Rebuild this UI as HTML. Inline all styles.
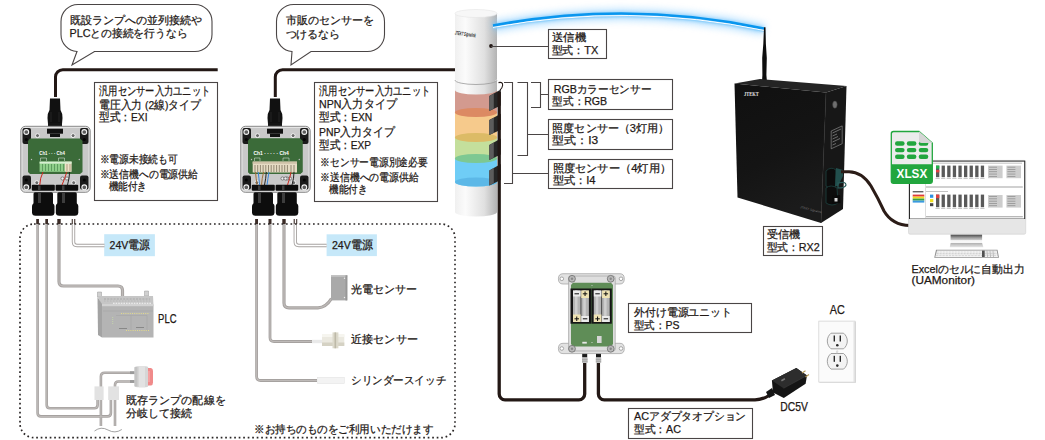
<!DOCTYPE html>
<html><head><meta charset="utf-8">
<style>
html,body{margin:0;padding:0;background:#fff;}
body{width:1045px;height:440px;overflow:hidden;position:relative;font-family:"Liberation Sans",sans-serif;}
svg{position:absolute;left:0;top:0;}
text{font-family:"Liberation Sans",sans-serif;fill:#231815;font-size:11px;}
.tx text{stroke:#231815;stroke-width:0.25px;}
</style></head><body>
<svg width="1045" height="440" viewBox="0 0 1045 440">
<defs>
  <linearGradient id="towerG" x1="0" x2="1" y1="0" y2="0">
    <stop offset="0" stop-color="#f0f0f0"/><stop offset="0.25" stop-color="#fbfbfb"/><stop offset="0.7" stop-color="#e0e0e0"/><stop offset="1" stop-color="#b3b3b3"/>
  </linearGradient>
  <linearGradient id="boxFront" x1="0" x2="1" y1="0" y2="1">
    <stop offset="0" stop-color="#1e1e1e"/><stop offset="1" stop-color="#0c0c0c"/>
  </linearGradient>
  <linearGradient id="rxFront" x1="0" y1="0" x2="0.3" y2="1"><stop offset="0" stop-color="#101010"/><stop offset="0.6" stop-color="#141414"/><stop offset="1" stop-color="#1b1b1b"/></linearGradient>
  <filter id="glow" x="-10%" y="-200%" width="120%" height="500%"><feGaussianBlur stdDeviation="3.5"/></filter>
  <filter id="glow2" x="-10%" y="-200%" width="120%" height="500%"><feGaussianBlur stdDeviation="1.5"/></filter>
</defs>

<!-- dotted region -->


<!-- speech bubbles -->
<path d="M77,51.5 L72,65 L94.5,51.5 L195,51.5 A17,17 0 0 0 212,34.5 L212,21.5 A17,17 0 0 0 195,4.5 L78,4.5 A17,17 0 0 0 61,21.5 L61,34.5 A17,17 0 0 0 77,51.5 Z" fill="#fff" stroke="#4a4545" stroke-width="1.1"/>
<path d="M292,51.5 L291,65 L311,51.5 L367.5,51.5 A17,17 0 0 0 384.5,34.5 L384.5,21.5 A17,17 0 0 0 367.5,4.5 L293.5,4.5 A17,17 0 0 0 276.5,21.5 L276.5,34.5 A17,17 0 0 0 292,51.5 Z" fill="#fff" stroke="#4a4545" stroke-width="1.1"/>

<!-- black cables top -->
<path d="M55.5,97 L55.5,77 A7.3,7.3 0 0 1 62.8,69.7 L217.7,69.7" fill="none" stroke="#231815" stroke-width="3"/>
<path d="M275.3,97 L275.3,77 A7.3,7.3 0 0 1 282.6,69.7 L456,69.7" fill="none" stroke="#231815" stroke-width="3"/>

<!-- info boxes -->
<rect x="94.5" y="82.5" width="123" height="118" fill="#fff" stroke="#4a4545" stroke-width="1.1"/>
<rect x="314.5" y="82.5" width="123" height="119" fill="#fff" stroke="#4a4545" stroke-width="1.1"/>
<rect x="548.5" y="29.5" width="58" height="29" fill="#fff" stroke="#4a4545" stroke-width="1.1"/>
<rect x="548.5" y="79.5" width="124" height="30" fill="#fff" stroke="#4a4545" stroke-width="1.1"/>
<rect x="548.5" y="119.5" width="124" height="30" fill="#fff" stroke="#4a4545" stroke-width="1.1"/>
<rect x="548.5" y="159.5" width="124" height="29" fill="#fff" stroke="#4a4545" stroke-width="1.1"/>
<rect x="763.5" y="226.5" width="59" height="29" fill="#fff" stroke="#4a4545" stroke-width="1.1"/>
<rect x="628.5" y="303.5" width="123" height="29" fill="#fff" stroke="#4a4545" stroke-width="1.1"/>
<rect x="628.5" y="408.5" width="124" height="30" fill="#fff" stroke="#4a4545" stroke-width="1.1"/>

<!-- 24V boxes -->
<rect x="104.2" y="234.2" width="50.7" height="22" fill="#c6e8f9"/>
<rect x="326.6" y="234.3" width="50.3" height="21.8" fill="#c6e8f9"/>

<!-- tower light -->
<g>
  <!-- bottom white section -->
  <path d="M455,180 L455,212 A21,4.5 0 0 0 497,212 L497,180 Z" fill="url(#towerG)"/>
  <!-- blue -->
  <path d="M455,158.5 L455,182 A21,4.5 0 0 0 497,182 L497,158.5 Z" fill="#6fcdf6"/>
  <ellipse cx="476" cy="182" rx="21" ry="4.5" fill="#5ab6e6" opacity="0.9"/>
  <path d="M455,137.5 L455,158.5 L497,158.5 L497,137.5 Z" fill="#c4df9c"/>
  <ellipse cx="476" cy="158.5" rx="21" ry="4.5" fill="#7dc892"/>
  <path d="M455,112.5 L455,137.5 L497,137.5 L497,112.5 Z" fill="#f6ca8c"/>
  <ellipse cx="476" cy="137.5" rx="21" ry="4.5" fill="#dcbb66"/>
  <path d="M455,89 L455,112.5 L497,112.5 L497,89 Z" fill="#d39a8f"/>
  <ellipse cx="476" cy="112.5" rx="21" ry="4.5" fill="#dc8a63"/>
  <!-- white band -->
  <path d="M455,81 L455,90 A21,4.5 0 0 0 497,90 L497,81 Z" fill="url(#towerG)"/>
  <!-- top cap -->
  <path d="M455,13.5 L455,79 A21,4.5 0 0 0 497,79 L497,13.5 Z" fill="url(#towerG)"/>
  <path d="M455,80 A21,4.5 0 0 0 497,80" fill="none" stroke="#9a9a9a" stroke-width="0.8"/>
  <ellipse cx="476" cy="13.5" rx="21" ry="4" fill="#f7f7f7" stroke="#e0e0e0" stroke-width="0.5"/>
  <!-- logo -->
  <text x="455" y="34.5" style="font-size:5.5px;font-weight:bold;font-style:italic;fill:#222" textLength="21" lengthAdjust="spacingAndGlyphs" transform="rotate(8 455 33)">JTEKT Signalink</text>
  <circle cx="491" cy="46" r="1.9" fill="#231815"/>
  <!-- sensor blocks -->
  <path d="M489.3,96.0 L500.8,89.6 L500.8,105.6 L489.3,111.0 Z" fill="#262626"/>
  <path d="M489.3,96.0 L493.8,93.6 L493.8,108.6 L489.3,111.0 Z" fill="#5c5c5c"/>
  <path d="M489.3,120.1 L500.8,113.7 L500.8,129.7 L489.3,135.1 Z" fill="#262626"/>
  <path d="M489.3,120.1 L493.8,117.7 L493.8,132.7 L489.3,135.1 Z" fill="#5c5c5c"/>
  <path d="M489.3,145.0 L500.8,138.6 L500.8,154.6 L489.3,160.0 Z" fill="#262626"/>
  <path d="M489.3,145.0 L493.8,142.6 L493.8,157.6 L489.3,160.0 Z" fill="#5c5c5c"/>
  <path d="M489.3,170.4 L500.8,164.0 L500.8,180.0 L489.3,185.4 Z" fill="#262626"/>
  <path d="M489.3,170.4 L493.8,168.0 L493.8,183.0 L489.3,185.4 Z" fill="#5c5c5c"/>
  <path d="M498.5,82.6 Q503,81.5 502.6,85.5 Q502.2,88.5 500,90" fill="none" stroke="#231815" stroke-width="1.1"/>
</g>

<!-- radio arc glow -->
<path d="M493,26.5 Q629,1 764,29.5" fill="none" stroke="#8ccfff" stroke-width="12" opacity="0.55" filter="url(#glow)"/>
<path d="M493,26.5 Q629,1 764,29.5" fill="none" stroke="#5bb8f5" stroke-width="6" opacity="0.45" filter="url(#glow2)"/>
<path d="M493,25.5 Q629,0 764,28.5" fill="none" stroke="#0a96ee" stroke-width="2.6"/>
<path d="M493,27.5 Q629,2.2 764,30.5" fill="none" stroke="#ffffff" stroke-width="1"/>
<path d="M493,28.5 Q629,3.2 764,31.5" fill="none" stroke="#8fd0fb" stroke-width="0.8"/>

<!-- leader lines -->
<g stroke="#4a4545" stroke-width="1.1" fill="none">
  <path d="M491,46.5 L548.5,46.5"/>
  <path d="M531,82.5 L540.5,82.5 L540.5,107.5 L531,107.5 M540.5,94.5 L548.5,94.5"/>
  <path d="M517.5,82.5 L527.5,82.5 L527.5,155.5 L517.5,155.5 M527.5,134.5 L548.5,134.5"/>
  <path d="M504,82.5 L512.5,82.5 L512.5,183.5 L504,183.5 M512.5,173.5 L548.5,173.5"/>
</g>

<!-- receiver RX2 -->
<g>
  <!-- antenna -->
  <path d="M764,27.3 L765.5,27.3 L765.9,44 L766.8,58 L766.4,75 L767.2,85 L761.8,85 L762.4,75 L762.2,58 L763.3,44 Z" fill="#0e0e0e"/>
  <!-- top face -->
  <path d="M734.5,83.6 L760,79 L846.5,86 L826,92.5 Z" fill="#242424"/>
  <!-- front face -->
  <path d="M734.5,83.6 L826,92.5 L821,223 L737.5,197.5 Z" fill="url(#rxFront)"/>
  <!-- side face -->
  <path d="M826,92.5 L846.5,86 L843,209 L821,223 Z" fill="#171717"/>
  <path d="M826,92.5 L821,223" stroke="#262626" stroke-width="0.6"/>
  <text x="744" y="95.6" style="font-size:6.5px;font-weight:bold;fill:#e8e8e8;font-family:'Liberation Serif',serif" textLength="14.6" lengthAdjust="spacingAndGlyphs">JTEKT</text>
  <ellipse cx="834.9" cy="104.6" rx="2.3" ry="3.6" fill="#6f6f6f" stroke="#3a3a3a" stroke-width="0.5"/>
  <rect x="832" y="131" width="10" height="16" fill="#555" transform="skewY(-25) translate(0,0)" opacity="0"/>
  <path d="M831.2,131 L842.2,125.9 L842.2,143.7 L831.2,148.8 Z" fill="#1a1a1a" stroke="#9a9a9a" stroke-width="0.6"/>
  <g stroke="#bdbdbd" stroke-width="0.5"><path d="M832.5,133 L841,129 M832.5,136 L837,134 M832.5,139 L838,136.5 M832.5,142 L840,138.5 M832.5,145 L836,143.5"/></g>
  <!-- connectors on side -->
  <path d="M826,171 Q831,166 836,170 L836,186 Q831,190 826,186 Z" fill="#0c0c0c" stroke="#1a3836" stroke-width="1"/>
  <path d="M826,188 Q831,184 837,188 L838,203 Q832,207 826,203 Z" fill="#0c0c0c" stroke="#1a3836" stroke-width="1"/>
  <path d="M836,168 L843,170 L843,176 L838,186 L835,186 Z" fill="#224f4d"/>
  <path d="M838,183 Q846,181 846,185 Q845,188 838,188 Z" fill="none" stroke="#2b5c5a" stroke-width="1.2"/>
  <path d="M832,196 L840,195 L840.5,203 L832.5,204 Z" fill="#0a0a0a"/>
  <rect x="834.5" y="198" width="3" height="3.5" fill="#d8d8d8"/>
  <text x="800" y="208" style="font-size:3px;fill:#777" transform="rotate(14 800 208)">JTEKT Signalink</text>
</g>
<!-- cable receiver->monitor -->
<path d="M841,171.8 L849,171.8 Q862,172 871,186 Q878,198 884,211 Q892,225 910,225.6" fill="none" stroke="#2b1c17" stroke-width="3"/>

<!-- monitor -->
<g>
  <rect x="908.5" y="160.4" width="117.2" height="73.8" rx="1.5" fill="#e6e6e6" stroke="#d0d0d0" stroke-width="0.6"/>
  <rect x="909" y="160.6" width="116.2" height="58.4" fill="#2a2a2a"/>
  <rect x="910" y="161.6" width="114.2" height="57" fill="#ffffff"/>
  <defs><linearGradient id="neckG" x1="0" y1="0" x2="0" y2="1"><stop offset="0" stop-color="#4a4a4a"/><stop offset="0.5" stop-color="#9a9a9a"/><stop offset="1" stop-color="#d8d8d8"/></linearGradient>
  <linearGradient id="baseG" x1="0" y1="0" x2="0" y2="1"><stop offset="0" stop-color="#b0b0b0"/><stop offset="1" stop-color="#e6e6e6"/></linearGradient></defs>
  <rect x="950.6" y="234.7" width="31.5" height="5.8" fill="url(#neckG)"/>
  <rect x="950.6" y="240.5" width="31.5" height="2.5" fill="#f7f7f7"/>
  <path d="M950.6,243 L982.1,243 L983.4,247.3 L949.8,247.3 Z" fill="url(#baseG)"/>
  <path d="M936,249.8 L997.5,249.8 L999,257.8 L934.2,257.8 Z" fill="#8f8f8f"/>
  <path d="M937,250.6 L996.7,250.6 L998,257 L935.3,257 Z" fill="#f4f4f4"/>
  <path d="M936.5,253.8 L997.5,253.8" stroke="#a8a8a8" stroke-width="0.6" stroke-dasharray="2.2 0.8"/>
  <path d="M936.8,252 L997,252" stroke="#c4c4c4" stroke-width="0.5" stroke-dasharray="2 1"/>
  <path d="M936,255.6 L998,255.6" stroke="#b8b8b8" stroke-width="0.5" stroke-dasharray="2.4 0.8"/>
  <rect x="982" y="250.6" width="2.7" height="6.4" fill="#505050"/>
  <g stroke="#9a9a9a" stroke-width="0.6"><path d="M987,250.6 L987.5,257 M990,250.6 L990.5,257 M993,250.6 L993.5,257"/></g>
  <g>
    <rect x="926" y="162.8" width="96" height="0.6" fill="#9a9a9a"/>
    <g fill="#5a5a5a"><rect x="936.0" y="165.6" width="3.3" height="11.6"/><rect x="941.6" y="165.6" width="3.3" height="11.6"/><rect x="947.2" y="165.6" width="3.3" height="11.6"/><rect x="952.8" y="165.6" width="3.3" height="11.6"/><rect x="958.4" y="165.6" width="3.3" height="11.6"/><rect x="964.0" y="165.6" width="3.3" height="11.6"/><rect x="969.6" y="165.6" width="3.3" height="11.6"/><rect x="975.2" y="165.6" width="3.3" height="11.6"/><rect x="980.8" y="165.6" width="3.3" height="11.6"/><rect x="936.0" y="194.6" width="3.3" height="12.6"/><rect x="941.6" y="194.6" width="3.3" height="12.6"/><rect x="947.2" y="194.6" width="3.3" height="12.6"/><rect x="952.8" y="194.6" width="3.3" height="12.6"/><rect x="958.4" y="194.6" width="3.3" height="12.6"/><rect x="964.0" y="194.6" width="3.3" height="12.6"/><rect x="969.6" y="194.6" width="3.3" height="12.6"/><rect x="975.2" y="194.6" width="3.3" height="12.6"/><rect x="980.8" y="194.6" width="3.3" height="12.6"/></g>
    <g fill="#b0b0b0"><rect x="935.5" y="178" width="4.2" height="0.7"/><rect x="941.1" y="178" width="4.2" height="0.7"/><rect x="946.7" y="178" width="4.2" height="0.7"/><rect x="952.3" y="178" width="4.2" height="0.7"/><rect x="957.9" y="178" width="4.2" height="0.7"/><rect x="963.5" y="178" width="4.2" height="0.7"/><rect x="969.1" y="178" width="4.2" height="0.7"/><rect x="974.7" y="178" width="4.2" height="0.7"/><rect x="980.3" y="178" width="4.2" height="0.7"/><rect x="935.5" y="208" width="4.2" height="0.7"/><rect x="941.1" y="208" width="4.2" height="0.7"/><rect x="946.7" y="208" width="4.2" height="0.7"/><rect x="952.3" y="208" width="4.2" height="0.7"/><rect x="957.9" y="208" width="4.2" height="0.7"/><rect x="963.5" y="208" width="4.2" height="0.7"/><rect x="969.1" y="208" width="4.2" height="0.7"/><rect x="974.7" y="208" width="4.2" height="0.7"/><rect x="980.3" y="208" width="4.2" height="0.7"/></g>
    <rect x="936" y="165.6" width="3.3" height="3" fill="#22b24c"/><rect x="936" y="170" width="3.3" height="2.4" fill="#e04040"/>
    <rect x="930" y="194.6" width="3.3" height="3.2" fill="#2f8fe0"/><rect x="930" y="199" width="3.3" height="3.2" fill="#f0e020"/><rect x="930" y="203.2" width="3.3" height="3" fill="#444"/>
    <rect x="936" y="194.6" width="3.3" height="3.5" fill="#e04040"/>
    <rect x="988" y="165.6" width="14.6" height="12.6" fill="#cdcdcd"/><rect x="989" y="166.8" width="8" height="0.7" fill="#8a8a8a"/><rect x="989" y="169.1" width="8" height="0.7" fill="#8a8a8a"/><rect x="989" y="171.4" width="8" height="0.7" fill="#8a8a8a"/><rect x="989" y="173.7" width="8" height="0.7" fill="#8a8a8a"/><rect x="989" y="176.0" width="8" height="0.7" fill="#8a8a8a"/><rect x="1006.4" y="165.6" width="14.6" height="12.6" fill="#cdcdcd"/><rect x="1007.4" y="166.8" width="8" height="0.7" fill="#8a8a8a"/><rect x="1007.4" y="169.1" width="8" height="0.7" fill="#8a8a8a"/><rect x="1007.4" y="171.4" width="8" height="0.7" fill="#8a8a8a"/><rect x="1007.4" y="173.7" width="8" height="0.7" fill="#8a8a8a"/><rect x="1007.4" y="176.0" width="8" height="0.7" fill="#8a8a8a"/><rect x="988" y="195" width="14.6" height="12.6" fill="#cdcdcd"/><rect x="989" y="196.2" width="8" height="0.7" fill="#8a8a8a"/><rect x="989" y="198.5" width="8" height="0.7" fill="#8a8a8a"/><rect x="989" y="200.8" width="8" height="0.7" fill="#8a8a8a"/><rect x="989" y="203.1" width="8" height="0.7" fill="#8a8a8a"/><rect x="989" y="205.4" width="8" height="0.7" fill="#8a8a8a"/><rect x="1006.4" y="195" width="14.6" height="12.6" fill="#cdcdcd"/><rect x="1007.4" y="196.2" width="8" height="0.7" fill="#8a8a8a"/><rect x="1007.4" y="198.5" width="8" height="0.7" fill="#8a8a8a"/><rect x="1007.4" y="200.8" width="8" height="0.7" fill="#8a8a8a"/><rect x="1007.4" y="203.1" width="8" height="0.7" fill="#8a8a8a"/><rect x="1007.4" y="205.4" width="8" height="0.7" fill="#8a8a8a"/>
    <rect x="926" y="186.6" width="96.8" height="0.8" fill="#8a8a8a"/>
    <rect x="926" y="216.4" width="96.8" height="0.8" fill="#8a8a8a"/>
    <rect x="925.2" y="183" width="0.5" height="35" fill="#bbb"/>
    <rect x="912.7" y="191.3" width="10.7" height="1" fill="#222"/>
    <rect x="912.7" y="194.6" width="11.6" height="2" fill="#e03a3a"/><rect x="912.7" y="196.6" width="11.6" height="2" fill="#f0d820"/><rect x="912.7" y="198.6" width="11.6" height="2" fill="#3aa040"/><rect x="912.7" y="200.6" width="11.6" height="2" fill="#3a9ae0"/>
    <rect x="926" y="191.3" width="22" height="0.6" fill="#9a9a9a"/>
  </g>
</g>
<!-- XLSX icon -->
<g>
  <path d="M893.5,131.5 L919,131.5 L932.3,143 L932.3,181 Q932.3,183.3 930,183.3 L893.5,183.3 Q891.3,183.3 891.3,181 L891.3,133.7 Q891.3,131.5 893.5,131.5 Z" fill="#ececec" stroke="#22a63e" stroke-width="1.3"/>
  <path d="M919,131.5 L919,140.5 Q919,143 921.5,143 L932.3,143 Z" fill="#d0d0d0"/>
  <path d="M891.3,164.2 L932.3,164.2 L932.3,181 Q932.3,183.3 930,183.3 L893.5,183.3 Q891.3,183.3 891.3,181 Z" fill="#22a63e"/>
  <g fill="#22a63e">
    <rect x="895" y="141.3" width="9.6" height="4.4" rx="2.2"/><rect x="906.8" y="141.3" width="9.6" height="4.4" rx="2.2"/><rect x="918.7" y="141.3" width="9.6" height="4.4" rx="2.2"/>
    <rect x="895" y="147.9" width="9.6" height="4.4" rx="2.2"/><rect x="906.8" y="147.9" width="9.6" height="4.4" rx="2.2"/><rect x="918.7" y="147.9" width="9.6" height="4.4" rx="2.2"/>
    <rect x="895" y="154.6" width="9.6" height="4.4" rx="2.2"/><rect x="906.8" y="154.6" width="9.6" height="4.4" rx="2.2"/><rect x="918.7" y="154.6" width="9.6" height="4.4" rx="2.2"/>
  </g>
  <path d="M919,131.5 L919,140.5 Q919,143 921.5,143 L932.3,143 Z" fill="#d6d6d6"/>
  <text x="896.6" y="178.3" style="font-size:12px;font-weight:bold;fill:#fff" textLength="30.6" lengthAdjust="spacingAndGlyphs">XLSX</text>
</g>

<!-- bottom cables -->
<path d="M499.2,92 L499.2,394 A5.8,5.8 0 0 0 505,399.8 L578.9,399.8 A5.8,5.8 0 0 0 584.7,394 L584.7,362" fill="none" stroke="#231815" stroke-width="3.3"/>
<path d="M598.4,362 L598.4,394 A5.8,5.8 0 0 0 604.2,399.8 L755,399.8 Q763,399.6 769,395.5" fill="none" stroke="#231815" stroke-width="3.3"/>
<!-- cable glands PS -->
<g>
  <rect x="582.2" y="353.5" width="5" height="4" fill="#1a1a1a"/>
  <rect x="596" y="353.5" width="5" height="4" fill="#1a1a1a"/>
  <rect x="582" y="357.5" width="5.6" height="5.5" fill="#c2c2c2"/>
  <rect x="595.8" y="357.5" width="5.4" height="5.5" fill="#c2c2c2"/>
  <g stroke="#8a8a8a" stroke-width="0.6"><path d="M582,359.3 L587.6,359.3 M582,361.2 L587.6,361.2 M595.8,359.3 L601.2,359.3 M595.8,361.2 L601.2,361.2"/></g>
</g>
<!-- PS unit -->
<g>
  <path d="M563,273.7 L620,273.7 Q624.3,273.7 624.3,278.8 Q624.3,284 620,284 L563,284 Q558.4,284 558.4,278.8 Q558.4,273.7 563,273.7 Z" fill="#e2e2e2" stroke="#9d9d9d" stroke-width="0.7"/>
  <path d="M563,343.3 L620,343.3 Q624.3,343.3 624.3,348.5 Q624.3,353.6 620,353.6 L563,353.6 Q558.4,353.6 558.4,348.5 Q558.4,343.3 563,343.3 Z" fill="#e2e2e2" stroke="#9d9d9d" stroke-width="0.7"/>
  <rect x="568.6" y="276" width="46.6" height="75" rx="2" fill="#dedede" stroke="#a0a0a0" stroke-width="0.7"/>
  <g fill="#fff" stroke="#8a8a8a" stroke-width="0.7">
    <circle cx="561.8" cy="278.8" r="1.8"/><circle cx="621" cy="278.8" r="1.8"/>
    <circle cx="561.8" cy="348.5" r="1.8"/><circle cx="621" cy="348.5" r="1.8"/>
  </g>
  <path d="M573,282.8 L611,282.8 L613,285 L613,344 L611,346.4 L573,346.4 L571,344 L571,285 Z" fill="#5f8d57"/>
  <g fill="#b9b9b9" stroke="#6d6d6d" stroke-width="0.8">
    <circle cx="572" cy="278.8" r="3.4"/><circle cx="610.7" cy="278.8" r="3.4"/>
    <circle cx="572" cy="348.8" r="3.4"/><circle cx="610.7" cy="348.8" r="3.4"/>
  </g>
  <g fill="#888"><circle cx="572" cy="278.8" r="1.2"/><circle cx="610.7" cy="278.8" r="1.2"/><circle cx="572" cy="348.8" r="1.2"/><circle cx="610.7" cy="348.8" r="1.2"/></g>
  <!-- battery holders -->
  <rect x="570.5" y="288.5" width="20.6" height="35.2" fill="#161616"/>
  <rect x="591.4" y="288.5" width="20.4" height="35.2" fill="#161616"/>
  <g fill="#b4b4b4">
    <rect x="573" y="290.5" width="7.6" height="31.5"/><rect x="581.3" y="290.5" width="7.6" height="31.5"/>
    <rect x="593.8" y="290.5" width="7.6" height="31.5"/><rect x="602.1" y="290.5" width="7.6" height="31.5"/>
  </g>
  <g fill="#cfcfcf"><rect x="575" y="290.5" width="2.5" height="31.5"/><rect x="583.3" y="290.5" width="2.5" height="31.5"/><rect x="595.8" y="290.5" width="2.5" height="31.5"/><rect x="604.1" y="290.5" width="2.5" height="31.5"/></g>
  <g fill="#efe3b4">
    <rect x="581.3" y="290.5" width="7.6" height="7.5"/><rect x="573" y="314.5" width="7.6" height="7.5"/>
    <rect x="602.1" y="290.5" width="7.6" height="7.5"/><rect x="593.8" y="314.5" width="7.6" height="7.5"/>
  </g>
  <g fill="#ececec"><rect x="573" y="290.5" width="7.6" height="6"/><rect x="593.8" y="290.5" width="7.6" height="6"/><rect x="581.3" y="316" width="7.6" height="6"/><rect x="602.1" y="316" width="7.6" height="6"/></g>
  <g fill="#111">
    <rect x="574.5" y="293.3" width="4.5" height="1"/><rect x="595.3" y="293.3" width="4.5" height="1"/>
    <rect x="582.8" y="293.3" width="4.5" height="1"/><rect x="584.55" y="291.5" width="1" height="4.5"/>
    <rect x="603.6" y="293.3" width="4.5" height="1"/><rect x="605.35" y="291.5" width="1" height="4.5"/>
    <rect x="574.5" y="318.3" width="4.5" height="1"/><rect x="576.25" y="316.5" width="1" height="4.5"/>
    <rect x="595.3" y="318.3" width="4.5" height="1"/><rect x="597.05" y="316.5" width="1" height="4.5"/>
    <rect x="582.8" y="318.3" width="4.5" height="1"/><rect x="603.6" y="318.3" width="4.5" height="1"/>
  </g>
  <rect x="582.3" y="341.8" width="4.5" height="1.8" fill="#e8e8e8"/>
  <rect x="597" y="336" width="4.6" height="7" fill="#d6d6d6"/>
  <circle cx="592" cy="342.5" r="0.6" fill="#ddd"/><circle cx="592" cy="285.5" r="0.6" fill="#ccc"/>
</g>
<!-- AC adapter -->
<g>
  <path d="M766,392 L772,388 L775,395 L769,398 Z" fill="#151515"/>
  <path d="M771.9,380.6 L796.3,368.1 L807,375.5 L805.6,383.8 L783.8,398.1 L773,392.5 Z" fill="#141414"/>
  <path d="M771.9,380.6 L796.3,368.1 L807,375.5 L783.5,388.3 Z" fill="#2d2d2d"/>
  <path d="M783.5,388.3 L807,375.5" stroke="#444" stroke-width="0.5"/>
  <g stroke="#b59a5a" stroke-width="1.2"><path d="M802,373 L805.5,370.8 M805.5,377 L809,374.6"/></g>
  <rect x="781" y="380" width="4" height="1.6" fill="#777" transform="rotate(-28 781 380)"/>
</g>
<!-- AC outlet -->
<g>
  <rect x="819.5" y="321.5" width="36.5" height="61.3" fill="#d9d9d9"/>
  <rect x="818.8" y="321.1" width="36.2" height="61" fill="#fbfbfb" stroke="#d0d0d0" stroke-width="0.7"/>
  <rect x="853.5" y="321.5" width="1.5" height="60.5" fill="#e2e2e2"/>
  <path d="M831.04,333.20 L843.56,333.20 A10,10 0 0 1 843.56,348.80 L831.04,348.80 A10,10 0 0 1 831.04,333.20 Z" fill="#f3f3f3" stroke="#8c8c8c" stroke-width="0.8"/>
  <path d="M831.04,353.50 L843.56,353.50 A10,10 0 0 1 843.56,369.10 L831.04,369.10 A10,10 0 0 1 831.04,353.50 Z" fill="#f3f3f3" stroke="#8c8c8c" stroke-width="0.8"/>
  <g fill="#2a2a2a">
    <rect x="833.6" y="335.5" width="1.4" height="6"/><rect x="839.6" y="335.5" width="1.4" height="6"/>
    <rect x="833.6" y="355.8" width="1.4" height="6"/><rect x="839.6" y="355.8" width="1.4" height="6"/>
    <circle cx="837.3" cy="345.3" r="1.3"/><circle cx="837.3" cy="365.6" r="1.3"/>
  </g>
  <circle cx="837.3" cy="351.2" r="1" fill="#ddd"/>
</g>
  <circle cx="837" cy="352" r="1.2" fill="#ddd"/>
</g>

<!-- sensor unit definition -->
<defs>
<g id="unit">
  <!-- connector top -->
  <path d="M50,98.5 L60,98.5 L60.5,110 Q62.5,113 62.5,118 L62,124 L48,124 L47.5,118 Q47.5,113 49.5,110 Z" fill="#111"/>
  <rect x="48" y="123" width="14" height="4.5" fill="#151515"/>
  <g stroke="#3a3a3a" stroke-width="0.5"><path d="M51,112 L51,122 M59,112 L59,122"/></g>
  <!-- body -->
  <rect x="20.8" y="126.3" width="69.4" height="66" rx="4.5" fill="#e4e4e4" stroke="#7e7e7e" stroke-width="0.9"/>
  <rect x="22.5" y="128" width="66" height="62.5" rx="3.5" fill="#c9c9c9"/>
  <!-- corner pads -->
  <g fill="#1a1a1a">
    <rect x="22.5" y="128" width="8.5" height="16" rx="2"/><rect x="80" y="128" width="8.5" height="16" rx="2"/>
    <rect x="22.5" y="175.5" width="8.5" height="14" rx="2"/><rect x="80" y="175.5" width="8.5" height="14" rx="2"/>
  </g>
  <g fill="#5a5a5a" stroke="#f2f2f2" stroke-width="1.1">
    <circle cx="26.3" cy="132" r="2.4"/><circle cx="84.3" cy="132" r="2.4"/>
    <circle cx="26.3" cy="187.3" r="2.4"/><circle cx="84.3" cy="187.3" r="2.4"/>
  </g>
  <g fill="#050505"><circle cx="26.3" cy="139.5" r="1.5"/><circle cx="84.3" cy="139.5" r="1.5"/><circle cx="26.3" cy="180" r="1.5"/><circle cx="84.3" cy="180" r="1.5"/></g>
  <!-- pcb -->
  <path d="M30,138.5 L80,138.5 L82.5,141 L82.5,172 L80,174 L30,174 L28,172 L28,141 Z" fill="#3b6b39"/>
  <!-- inner screws -->
  <g fill="#6a6a6a" stroke="#f4f4f4" stroke-width="1"><circle cx="37.5" cy="135.6" r="2"/><circle cx="73.1" cy="135.6" r="2"/><circle cx="36.8" cy="182.7" r="2"/><circle cx="73.7" cy="182.7" r="2"/></g>
  <!-- connector flange -->
  <rect x="47" y="128.7" width="16" height="5" fill="#111"/>
  <rect x="50" y="133.7" width="10" height="3.3" fill="#111"/>
  <text x="39.3" y="155" style="font-size:4.6px;font-weight:bold;fill:#fff" textLength="25.5" lengthAdjust="spacingAndGlyphs">Ch1 · · · Ch4</text>
  <g stroke="#fff" stroke-width="0.45" fill="none"><path d="M40.5,161 L40.5,158 L46.5,158 L46.5,161 M58.5,161 L58.5,158 L64.5,158 L64.5,161"/></g>
  <circle cx="31.5" cy="159.5" r="0.7" fill="#bbb"/><circle cx="79.3" cy="159.5" r="0.7" fill="#bbb"/>
  <!-- terminal block -->
  <rect x="39.6" y="161.6" width="25.2" height="10.2" fill="#8fcf8a"/>
  <rect x="64.8" y="161.6" width="6.8" height="10.2" fill="#efe2c8"/>
  <rect x="39.6" y="161.6" width="32" height="2" fill="#d8efd2"/>
  <g stroke="#2e6a36" stroke-width="0.5"><path d="M42.5,164 L42.5,171 M45.5,164 L45.5,171 M48.5,164 L48.5,171 M51.5,164 L51.5,171 M54.5,164 L54.5,171 M57.5,164 L57.5,171 M60.5,164 L60.5,171 M63.5,164 L63.5,171"/></g>
  <g stroke="#6b5a3a" stroke-width="0.5"><path d="M67,164 L67,171 M70,164 L70,171"/></g>
  <g fill="#eee" stroke="#333" stroke-width="0.5"><circle cx="62.5" cy="178.5" r="1.6"/><circle cx="67" cy="178.5" r="1.6"/></g>
  <!-- glands -->
  <g fill="#0d0d0d">
    <rect x="31.8" y="184.8" width="23" height="6" rx="1"/>
    <rect x="55.6" y="184.8" width="22.6" height="6" rx="1"/>
    <rect x="33.5" y="192.3" width="19.5" height="13" rx="1.5"/>
    <rect x="57.3" y="192.3" width="19.5" height="13" rx="1.5"/>
    <rect x="32" y="203" width="22.5" height="12.8" rx="3.5"/>
    <rect x="55.8" y="203" width="22.5" height="12.8" rx="3.5"/>
  </g>
  <g fill="#3d3d3d"><rect x="38" y="193" width="3" height="10"/><rect x="62" y="193" width="3" height="10"/><rect x="38" y="185.5" width="2.5" height="5"/><rect x="62" y="185.5" width="2.5" height="5"/></g>
</g>
</defs>
<use href="#unit"/>
<use href="#unit" x="220"/>
<!-- unit2 pcb overlay -->
<g>
  <path d="M250,138.5 L300,138.5 L302.5,141 L302.5,172 L300,174 L250,174 L248,172 L248,141 Z" fill="#3b6b39"/>
  <text x="253.4" y="155" style="font-size:4.6px;font-weight:bold;fill:#fff" textLength="35.5" lengthAdjust="spacingAndGlyphs">Ch1 · · · · · Ch4</text>
  <g stroke="#fff" stroke-width="0.45" fill="none"><path d="M254.5,161 L254.5,158 L260,158 L260,161 M283,161 L283,158 L289,158 L289,161"/></g>
  <circle cx="251.5" cy="159.5" r="0.7" fill="#bbb"/><circle cx="299.3" cy="159.5" r="0.7" fill="#bbb"/>
  <rect x="252.7" y="161.6" width="44.3" height="10.9" fill="#e6dcc4"/>
  <rect x="252.7" y="161.6" width="44.3" height="2.2" fill="#cfc3a8"/>
  <g stroke="#5a4f3a" stroke-width="0.6"><path d="M255,165 L255,172 M257.7,165 L257.7,172 M260.4,165 L260.4,172 M263.1,165 L263.1,172 M265.8,165 L265.8,172 M268.5,165 L268.5,172 M271.2,165 L271.2,172 M273.9,165 L273.9,172 M276.6,165 L276.6,172 M279.3,165 L279.3,172 M282,165 L282,172 M284.7,165 L284.7,172 M287.4,165 L287.4,172 M291,165 L291,172 M294,165 L294,172"/></g>
  <g fill="#eee" stroke="#333" stroke-width="0.5"><circle cx="285.5" cy="178.5" r="1.6"/><circle cx="290" cy="178.5" r="1.6"/></g>
</g>
<!-- wires inside unit 1 -->
<g fill="none" stroke-width="1">
  <path d="M43,172 Q40,178 39.8,185" stroke="#c8281e"/>
  <path d="M66.8,172 Q65,178 62,185" stroke="#c8281e"/>
  <path d="M69.6,172 Q69.5,178 67.5,185" stroke="#222"/>
</g>
<g fill="none" stroke-width="1">
  <path d="M255.5,172 Q256,178 257,185" stroke="#a0703a"/>
  <path d="M258.2,172 Q259,178 259.5,185" stroke="#3a86d9"/>
  <path d="M263.6,172 Q262,178 261.5,185" stroke="#a0703a"/>
  <path d="M266.3,172 Q266,178 264.5,185" stroke="#222"/>
  <path d="M269,172 Q268,178 267,185" stroke="#3a86d9"/>
  <path d="M291,172 Q290,178 287.5,185" stroke="#c8281e"/>
  <path d="M294,172 Q294,178 292,185" stroke="#222"/>
</g>
<!-- wires from glands: unit1 -->
<g fill="none" stroke-linejoin="round">
  <path d="M37.6,219 L37.6,413 Q37.6,416.4 41,416.4 L107.5,416.4 Q110.9,416.4 110.9,413 L110.9,398" stroke="#a6a2a0" stroke-width="2.6"/>
  <path d="M46.7,219 L46.7,405 Q46.7,408.2 50,408.2 L94.4,408.2 Q97.6,408.2 97.6,405 L97.6,398" stroke="#a6a2a0" stroke-width="2.6"/>
  <path d="M59,219 L59,281.5 Q59,286 63.5,286 L118,286 Q122.5,286 122.5,290.5 L122.5,296" stroke="#a6a2a0" stroke-width="3.2"/>
  <path d="M256.6,219 L256.6,376.5 Q256.6,380.5 260.6,380.5 L317,380.5" stroke="#a6a2a0" stroke-width="2.8"/>
  <path d="M270,219 L270,337.5 Q270,341.5 274,341.5 L322,341.5" stroke="#a6a2a0" stroke-width="2.8"/>
  <path d="M284,219 L284,303 Q284,307.8 289,307.8 L318,307.8 Q326,307.5 331.5,298.5" stroke="#a6a2a0" stroke-width="3.2"/>
  <path d="M100.9,426 L100.9,376.5 Q100.9,372.7 104.7,372.7 L134,372.7" stroke="#a6a2a0" stroke-width="2.6"/>
  <path d="M115,426 L115,385 Q115,381.5 118.5,381.5 L134,381.5" stroke="#a6a2a0" stroke-width="2.6"/>
  <path d="M37.6,219 L37.6,413 Q37.6,416.4 41,416.4 L107.5,416.4 Q110.9,416.4 110.9,413 L110.9,398" stroke="#bebab8" stroke-width="1.04"/>
  <path d="M46.7,219 L46.7,405 Q46.7,408.2 50,408.2 L94.4,408.2 Q97.6,408.2 97.6,405 L97.6,398" stroke="#bebab8" stroke-width="1.04"/>
  <path d="M59,219 L59,281.5 Q59,286 63.5,286 L118,286 Q122.5,286 122.5,290.5 L122.5,296" stroke="#bebab8" stroke-width="1.28"/>
  <path d="M256.6,219 L256.6,376.5 Q256.6,380.5 260.6,380.5 L317,380.5" stroke="#bebab8" stroke-width="1.12"/>
  <path d="M270,219 L270,337.5 Q270,341.5 274,341.5 L322,341.5" stroke="#bebab8" stroke-width="1.12"/>
  <path d="M284,219 L284,303 Q284,307.8 289,307.8 L318,307.8 Q326,307.5 331.5,298.5" stroke="#bebab8" stroke-width="1.28"/>
  <path d="M100.9,426 L100.9,376.5 Q100.9,372.7 104.7,372.7 L134,372.7" stroke="#bebab8" stroke-width="1.04"/>
  <path d="M115,426 L115,385 Q115,381.5 118.5,381.5 L134,381.5" stroke="#bebab8" stroke-width="1.04"/>
  <path d="M73.5,219 L73.5,242 Q73.5,245.5 77,245.5 L104.5,245.5" stroke="#a6a2a0" stroke-width="3.4"/>
  <path d="M73.5,219 L73.5,242 Q73.5,245.5 77,245.5 L104.5,245.5" stroke="#ffffff" stroke-width="1.6"/>
  <path d="M295.3,219 L295.3,242 Q295.3,245.5 298.8,245.5 L326.6,245.5" stroke="#a6a2a0" stroke-width="3.4"/>
  <path d="M295.3,219 L295.3,242 Q295.3,245.5 298.8,245.5 L326.6,245.5" stroke="#ffffff" stroke-width="1.6"/>
</g>
<g fill="#3b2b26">
  <rect x="36.3" y="219" width="2.6" height="5"/><rect x="45.4" y="219" width="2.6" height="5"/><rect x="57.4" y="219" width="3.2" height="5"/>
  <rect x="255.2" y="219" width="2.8" height="5"/><rect x="71.8" y="219" width="0.9" height="5"/><rect x="74.3" y="219" width="0.9" height="5"/><rect x="293.8" y="219" width="0.9" height="5"/><rect x="296.3" y="219" width="0.9" height="5"/><rect x="268.6" y="219" width="2.8" height="5"/><rect x="282.4" y="219" width="3.2" height="5"/>
</g>
<rect x="20" y="224" width="435" height="213.7" rx="14" ry="14" fill="none" stroke="#2a2626" stroke-width="1.7" stroke-dasharray="1.7 2.8"/>
<!-- PLC -->
<g>
  <path d="M97.5,292 L101.5,292 L101.5,297 L97.5,297 Z" fill="#d0d0d0" stroke="#999" stroke-width="0.5"/>
  <path d="M144.5,291 L148.5,291 L148.5,296 L144.5,296 Z" fill="#d0d0d0" stroke="#999" stroke-width="0.5"/>
  <path d="M98,297 L101.5,296 L153,296 L153.5,305 L101.5,305 Z" fill="#c6c6c6"/>
  <path d="M97.5,297 L102,304 L102,337.5 L98,335 Z" fill="#a3a3a3"/>
  <path d="M102,305 L153.5,305 L153.5,337.5 L102,337.5 Z" fill="#b4b4b4"/>
  <rect x="102" y="304" width="51.5" height="2.2" fill="#d2d2d2"/>
  <path d="M113,303.3 L151,303.3" stroke="#f6f6f6" stroke-width="1.1" stroke-dasharray="1.6 1"/>
  <path d="M104,299 L150,299" stroke="#9e9e9e" stroke-width="0.7" stroke-dasharray="2 1.2"/>
  <path d="M104,301 L150,301" stroke="#a8a8a8" stroke-width="0.5" stroke-dasharray="1.5 1.5"/>
  <g stroke="#a2a2a2" stroke-width="0.5" fill="none"><path d="M116,315.5 L131,315.5 L131,331 M131,315.5 L147,315.5 L147,331 M103,311 L153,311"/></g>
  <path d="M121,313.5 L149,313.5" stroke="#e8df86" stroke-width="0.9" stroke-dasharray="1 1.2"/>
  <path d="M126,330.5 L150,330.5" stroke="#e8df86" stroke-width="0.9" stroke-dasharray="1 1.2"/>
  <path d="M112.7,317 L112.7,325" stroke="#c8dca8" stroke-width="0.8" stroke-dasharray="1 1"/>
  <rect x="119" y="328" width="8" height="1" fill="#888"/><rect x="136" y="327" width="8" height="1" fill="#888"/>
</g>
<!-- splice connectors and lamp -->
<g>
  <rect x="94.5" y="386.4" width="9.1" height="13.6" fill="#e2e2e2"/>
  <rect x="108.2" y="386.4" width="10.8" height="13.6" fill="#e2e2e2"/>
  <rect x="130" y="371.3" width="5" height="2.8" fill="#9a9a9a"/>
  <rect x="130" y="380.1" width="5" height="2.8" fill="#9a9a9a"/>
  <path d="M134.5,368 Q134.5,366.3 137,366.3 L146,366.3 Q148.5,366.3 148.5,368.5 L148.5,385 Q148.5,387.2 146,387.2 L137,387.2 Q134.5,387.2 134.5,385.5 Z" fill="#d6d6d6"/>
  <rect x="134.5" y="367" width="3" height="19.5" fill="#c4c4c4"/>
  <rect x="139" y="366.3" width="6" height="21" fill="#e2e2e2"/>
  <path d="M148,368 L151,368 Q153,368.5 153,371 L153,382.5 Q153,385 151,385.5 L148,385.5 Z" fill="#f08a8a"/>
  <rect x="148" y="371" width="2" height="11" fill="#f5a0a0"/>
  <path d="M94.5,431 Q101,426 108,430 Q115,434 121.8,429.5" fill="none" stroke="#8a8a8a" stroke-width="0.8"/>
</g>
<!-- photoelectric sensor -->
<g>
  <rect x="331" y="275.3" width="16.3" height="25.1" fill="#a9a9a9"/>
  <rect x="331" y="275.3" width="16.3" height="1.5" fill="#c4c4c4"/>
  <rect x="345.5" y="275.3" width="1.8" height="25.1" fill="#979797"/>
  <circle cx="344.5" cy="278.3" r="0.7" fill="#eee"/><circle cx="344.5" cy="297.5" r="0.7" fill="#eee"/>
</g>
<!-- proximity sensor -->
<g>
  <rect x="312" y="339.8" width="10" height="3.4" fill="#e9e9e9"/>
  <rect x="322" y="334" width="22.3" height="12" rx="1" fill="#ebe9e0"/>
  <rect x="322" y="334" width="22.3" height="3" fill="#f6f5ef"/>
  <rect x="322" y="342.5" width="22.3" height="3.5" fill="#d5d2c4"/>
  <rect x="332.5" y="332.4" width="5.9" height="15.9" fill="#dcd9cb"/>
  <rect x="334.5" y="332.4" width="1.6" height="15.9" fill="#bdb9a8"/>
</g>
<!-- cylinder switch -->
<rect x="317.7" y="377.3" width="26.6" height="6.3" fill="#f3f3f3" stroke="#e0e0e0" stroke-width="0.5"/>

<!-- TEXT -->
<g class="tx">
<text x="69.5" y="24.2" style="font-size:11px" textLength="132.2" lengthAdjust="spacingAndGlyphs">既設ランプへの並列接続や</text>
<text x="69.5" y="37.4" style="font-size:11px" textLength="117.8" lengthAdjust="spacingAndGlyphs">PLCとの接続を行うなら</text>
<text x="285.5" y="24.2" style="font-size:11px" textLength="88.2" lengthAdjust="spacingAndGlyphs">市販のセンサーを</text>
<text x="285.5" y="37.7" style="font-size:11px" textLength="54.8" lengthAdjust="spacingAndGlyphs">つけるなら</text>
<text x="99.0" y="94.7" style="font-size:11.5px" textLength="111.3" lengthAdjust="spacingAndGlyphs">汎用センサー入力ユニット</text>
<text x="99.0" y="108.7" style="font-size:11.5px" textLength="101.7" lengthAdjust="spacingAndGlyphs">電圧入力 (2線)タイプ</text>
<text x="99.0" y="121.4" style="font-size:11.5px" textLength="48.5" lengthAdjust="spacingAndGlyphs">型式：EXI</text>
<text x="99.6" y="163.2" style="font-size:11px" textLength="77.9" lengthAdjust="spacingAndGlyphs">※電源未接続も可</text>
<text x="99.6" y="178.2" style="font-size:11px" textLength="98.4" lengthAdjust="spacingAndGlyphs">※送信機への電源供給</text>
<text x="108.5" y="189.5" style="font-size:11px" textLength="38.3" lengthAdjust="spacingAndGlyphs">機能付き</text>
<text x="319.0" y="94.7" style="font-size:11.5px" textLength="111.3" lengthAdjust="spacingAndGlyphs">汎用センサー入力ユニット</text>
<text x="319.0" y="108.0" style="font-size:11.5px" textLength="77.8" lengthAdjust="spacingAndGlyphs">NPN入力タイプ</text>
<text x="319.0" y="121.4" style="font-size:11.5px" textLength="53.3" lengthAdjust="spacingAndGlyphs">型式：EXN</text>
<text x="319.0" y="136.0" style="font-size:11.5px" textLength="75.8" lengthAdjust="spacingAndGlyphs">PNP入力タイプ</text>
<text x="319.0" y="149.2" style="font-size:11.5px" textLength="51.9" lengthAdjust="spacingAndGlyphs">型式：EXP</text>
<text x="320.3" y="165.9" style="font-size:11px" textLength="107.2" lengthAdjust="spacingAndGlyphs">※センサー電源別途必要</text>
<text x="320.3" y="180.5" style="font-size:11px" textLength="98.4" lengthAdjust="spacingAndGlyphs">※送信機への電源供給</text>
<text x="329.2" y="192.5" style="font-size:11px" textLength="38.3" lengthAdjust="spacingAndGlyphs">機能付き</text>
<text x="552.0" y="41.4" style="font-size:11px" textLength="34.3" lengthAdjust="spacingAndGlyphs">送信機</text>
<text x="551.5" y="54.3" style="font-size:11px" textLength="46.8" lengthAdjust="spacingAndGlyphs">型式：TX</text>
<text x="553.7" y="93.1" style="font-size:11px" textLength="97.6" lengthAdjust="spacingAndGlyphs">RGBカラーセンサー</text>
<text x="552.4" y="104.5" style="font-size:11px" textLength="54.8" lengthAdjust="spacingAndGlyphs">型式：RGB</text>
<text x="552.4" y="131.5" style="font-size:11px" textLength="116.7" lengthAdjust="spacingAndGlyphs">照度センサー（3灯用）</text>
<text x="552.4" y="143.5" style="font-size:11px" textLength="45.8" lengthAdjust="spacingAndGlyphs">型式：I3</text>
<text x="552.5" y="171.7" style="font-size:11px" textLength="118.7" lengthAdjust="spacingAndGlyphs">照度センサー（4灯用）</text>
<text x="552.5" y="184.2" style="font-size:11px" textLength="43.0" lengthAdjust="spacingAndGlyphs">型式：I4</text>
<text x="766.5" y="238.4" style="font-size:11px" textLength="33.6" lengthAdjust="spacingAndGlyphs">受信機</text>
<text x="766.5" y="251.0" style="font-size:11px" textLength="53.3" lengthAdjust="spacingAndGlyphs">型式：RX2</text>
<text x="911.5" y="272.5" style="font-size:11px" textLength="113.0" lengthAdjust="spacingAndGlyphs">Excelのセルに自動出力</text>
<text x="911.5" y="284.2" style="font-size:11px" textLength="63.5" lengthAdjust="spacingAndGlyphs">(UAMonitor)</text>
<text x="109.6" y="249.2" style="font-size:11.5px" textLength="40.5" lengthAdjust="spacingAndGlyphs">24V電源</text>
<text x="331.9" y="249.2" style="font-size:11.5px" textLength="41.0" lengthAdjust="spacingAndGlyphs">24V電源</text>
<text x="158.1" y="322.6" style="font-size:12px" textLength="18.4" lengthAdjust="spacingAndGlyphs">PLC</text>
<text x="126.3" y="403.6" style="font-size:11px" textLength="99.3" lengthAdjust="spacingAndGlyphs">既存ランプの配線を</text>
<text x="126.3" y="416.5" style="font-size:11px" textLength="65.9" lengthAdjust="spacingAndGlyphs">分岐して接続</text>
<text x="351.3" y="292.9" style="font-size:11px" textLength="65.9" lengthAdjust="spacingAndGlyphs">光電センサー</text>
<text x="351.3" y="343.2" style="font-size:11px" textLength="66.4" lengthAdjust="spacingAndGlyphs">近接センサー</text>
<text x="351.3" y="384.0" style="font-size:11px" textLength="94.8" lengthAdjust="spacingAndGlyphs">シリンダースイッチ</text>
<text x="254.1" y="433.2" style="font-size:11px" textLength="179.1" lengthAdjust="spacingAndGlyphs">※お持ちのものをご利用いただけます</text>
<text x="634.0" y="315.9" style="font-size:11px" textLength="98.0" lengthAdjust="spacingAndGlyphs">外付け電源ユニット</text>
<text x="634.0" y="328.6" style="font-size:11px" textLength="45.5" lengthAdjust="spacingAndGlyphs">型式：PS</text>
<text x="634.0" y="420.1" style="font-size:11px" textLength="112.3" lengthAdjust="spacingAndGlyphs">ACアダプタオプション</text>
<text x="634.0" y="433.2" style="font-size:11px" textLength="47.0" lengthAdjust="spacingAndGlyphs">型式：AC</text>
<text x="829.7" y="314.1" style="font-size:12px" textLength="15.0" lengthAdjust="spacingAndGlyphs">AC</text>
<text x="780.3" y="410.7" style="font-size:12px" textLength="27.5" lengthAdjust="spacingAndGlyphs">DC5V</text>
</g>
<!-- /TEXT -->
</svg>
</body></html>
